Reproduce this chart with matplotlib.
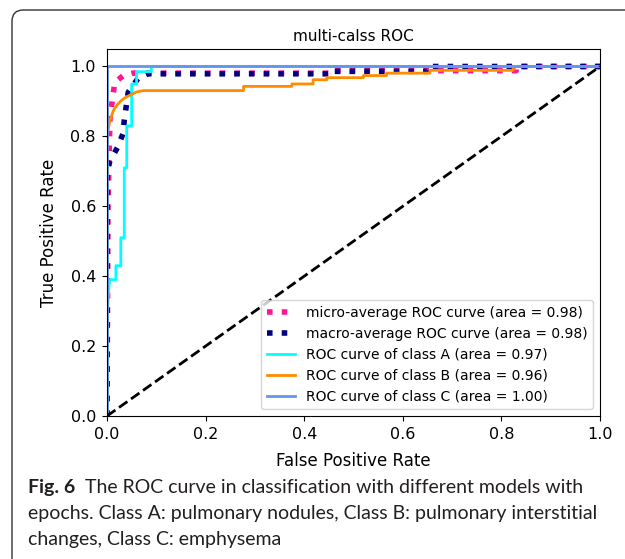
import matplotlib
matplotlib.use("Agg")
import matplotlib.pyplot as plt
from matplotlib.patches import FancyBboxPatch

# ── ROC data ────────────────────────────────────────────────────
micro_fpr = [0, 0.002, 0.006, 0.012, 0.016, 0.033, 0.053, 0.45, 0.45, 0.83, 0.83, 1.0]
micro_tpr = [0, 0.60, 0.85, 0.917, 0.955, 0.974, 0.981, 0.981, 0.988, 0.988, 1.0, 1.0]

macro_fpr = [0, 0, 0.006, 0.022, 0.033, 0.035, 0.043, 0.063, 0.083, 0.45, 0.45, 0.65, 0.65, 1.0]
macro_tpr = [0, 0.70, 0.73, 0.77, 0.81, 0.846, 0.926, 0.966, 0.979, 0.979, 0.986, 0.986, 1.0, 1.0]

a_fpr = [0, 0, 0.005, 0.018, 0.018, 0.028, 0.028, 0.035, 0.035, 0.040, 0.040,
         0.050, 0.050, 0.060, 0.060, 0.09, 0.09, 1.0]
a_tpr = [0, 0.28, 0.39, 0.39, 0.43, 0.43, 0.51, 0.51, 0.71, 0.71, 0.83,
         0.83, 0.95, 0.95, 0.985, 0.985, 1.0, 1.0]

b_fpr = [0, 0, 0.006, 0.013, 0.020, 0.027, 0.035, 0.045, 0.060, 0.073, 0.277, 0.277,
         0.375, 0.375, 0.418, 0.418, 0.446, 0.446, 0.52, 0.52, 0.567, 0.567,
         0.655, 0.655, 0.824, 0.824, 1.0]
b_tpr = [0, 0.80, 0.846, 0.874, 0.889, 0.90, 0.909, 0.917, 0.927, 0.931, 0.931, 0.943,
         0.943, 0.95, 0.95, 0.962, 0.962, 0.968, 0.968, 0.974, 0.974, 0.981,
         0.981, 0.989, 0.989, 1.0, 1.0]

c_fpr = [0, 0, 1.0]
c_tpr = [0, 1.0, 1.0]

labels = [
    "micro-average ROC curve (area = 0.98)",
    "macro-average ROC curve (area = 0.98)",
    "ROC curve of class A (area = 0.97)",
    "ROC curve of class B (area = 0.96)",
    "ROC curve of class C (area = 1.00)",
]

caption_lines = [
    "The ROC curve in classification with different models with",
    "epochs. Class A: pulmonary nodules, Class B: pulmonary interstitial",
    "changes, Class C: emphysema",
]

W, H = 625, 559
fig = plt.figure(figsize=(W / 100, H / 100), dpi=100)

# rounded frame around figure + caption (right/bottom run off the page)
frame = FancyBboxPatch((12 / W, -20 / H), 700 / W, (H - 10 + 20) / H,
                       boxstyle="round,pad=0,rounding_size=0.018",
                       transform=fig.transFigure, fill=False,
                       edgecolor="#333333", lw=1.0, mutation_aspect=W / H)
fig.patches.append(frame)

ax = fig.add_axes([107 / W, 1 - 416 / H, 493 / W, 367 / H])

ax.plot(micro_fpr, micro_tpr, color="deeppink", linestyle=":", lw=4, label=labels[0])
ax.plot(macro_fpr, macro_tpr, color="navy", linestyle=":", lw=4, label=labels[1])
ax.plot(a_fpr, a_tpr, color="aqua", lw=2, label=labels[2])
ax.plot(b_fpr, b_tpr, color="darkorange", lw=2, label=labels[3])
ax.plot(c_fpr, c_tpr, color="cornflowerblue", lw=2, label=labels[4])
ax.plot([0, 1], [0, 1], "k--", lw=2)

ax.set_xlim(0.0, 1.0)
ax.set_ylim(0.0, 1.05)
ax.tick_params(labelsize=11.5, pad=4.5)
ax.set_xlabel("False Positive Rate", fontsize=12, labelpad=7)
ax.set_ylabel("True Positive Rate", fontsize=12, labelpad=9)
ax.set_title("multi-calss ROC", fontsize=11)
ax.legend(loc="lower right", fontsize=10)

# caption
cap_font = "Lato"
cap_color = "#231f20"
fs = 14
t1 = fig.text(28 / W, 1 - 493 / H, "Fig. 6", fontsize=fs, fontweight="bold",
              family=cap_font, color=cap_color, va="baseline", ha="left")
ax.annotate("  " + caption_lines[0], xy=(1.0, 0.0), xycoords=t1, fontsize=fs,
            family=cap_font, color=cap_color, va="bottom", ha="left",
            annotation_clip=False)
fig.text(28 / W, 1 - 519 / H, caption_lines[1], fontsize=fs, family=cap_font,
         color=cap_color, va="baseline", ha="left")
fig.text(28 / W, 1 - 545 / H, caption_lines[2], fontsize=fs, family=cap_font,
         color=cap_color, va="baseline", ha="left")

fig.savefig("out.png", dpi=100)
